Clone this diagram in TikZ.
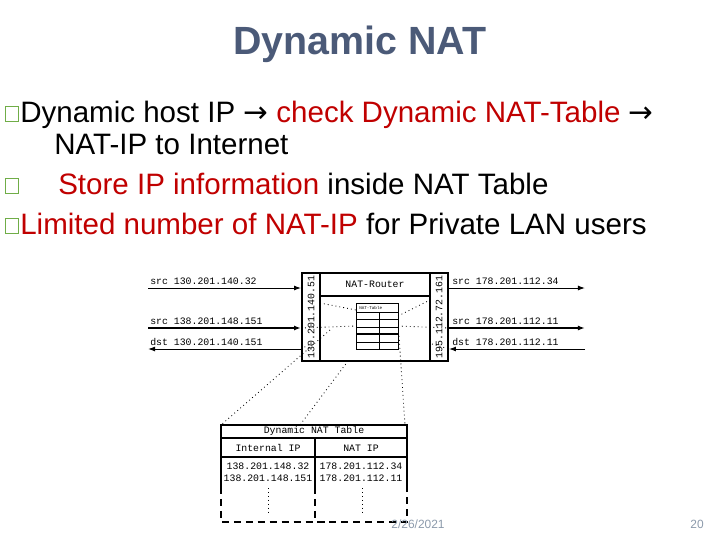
\documentclass[tikz,border=0pt]{standalone}
\usepackage{fontspec}
\setmainfont{Liberation Sans}
\setmonofont{Liberation Mono}
\newfontfamily\arrfont{DejaVu Sans}
\usetikzlibrary{arrows.meta}
\definecolor{ttlblue}{HTML}{4B5A78}
\definecolor{hired}{HTML}{C00000}
\definecolor{bulgreen}{HTML}{70AD47}
\definecolor{footgray}{HTML}{8C9AAB}
\newcommand{\rarr}{{\arrfont →}}

\begin{document}
\begin{tikzpicture}[x=0.025cm, y=-0.025cm,
    ttl/.style={font=\fontsize{28}{30}\selectfont\bfseries, text=ttlblue, inner sep=0pt},
    txt/.style={font=\fontsize{21}{24}\selectfont, anchor=base west, inner sep=0pt},
    bul/.style={draw=bulgreen, line width=0.9pt, minimum width=0.33cm, minimum height=0.38cm, inner sep=0pt},
    ip/.style={font=\ttfamily\fontsize{7}{8}\selectfont, inner sep=0pt},
    lab/.style={ip, anchor=base west},
    rtbox/.style={draw, line width=1.3pt, minimum width=3.65cm, minimum height=2.2cm, inner sep=0pt},
    tbl/.style={line width=1.3pt},
    arr/.style={-{Latex[length=5pt,width=3.5pt]}, line width=0.7pt},
    fat/.style={line width=1.5pt},
    dots/.style={dash pattern=on 0.6pt off 2.2pt, line width=0.6pt},
    foot/.style={font=\fontsize{8.5}{10}\selectfont, text=footgray, inner sep=0pt}]
  \useasboundingbox (0,0) rectangle (720,540);

  % title and bullets
  \node[ttl] (title) at (360,44) {Dynamic NAT};
  \node[bul] (b1) at (12,114) {};
  \node[txt] (t1) at (20,122) {Dynamic host IP \rarr{} \textcolor{hired}{check Dynamic NAT-Table} \rarr};
  \node[txt] (t2) at (54,154) {NAT-IP to Internet};
  \node[bul] (b2) at (12,186) {};
  \node[txt] (t3) at (58,194) {\textcolor{hired}{Store IP information} inside NAT Table};
  \node[bul] (b3) at (12,226) {};
  \node[txt] (t4) at (20,234) {\textcolor{hired}{Limited number of NAT-IP} for Private LAN users};

  % router
  \node[rtbox] (rt) at (375,317) {};
  \draw[line width=1pt] (320,273) -- (320,361) (430,273) -- (430,361) (320,296) -- (430,296);
  \node[ip] (rtname) at (375,284) {NAT-Router};
  \node[ip, rotate=90] (lip) at (311,317) {130.201.140.51};
  \node[ip, rotate=90] (rip) at (439,317) {195.112.72.161};
  % small table inside router
  \draw[line width=0.7pt] (356,303) rectangle (398,349);
  \foreach \yy in {312,319,327,342} \draw[line width=0.7pt] (356,\yy) -- (398,\yy);
  \draw[line width=1.1pt] (356,334) -- (398,334);
  \draw[line width=0.7pt] (379,312) -- (379,349);
  \node[font=\ttfamily\fontsize{3}{3}\selectfont, anchor=west, inner sep=0pt] (mini) at (359,307.5) {NAT-Table};

  % packets, left side
  \coordinate (l1) at (148,288);
  \coordinate (l2) at (148,328);
  \coordinate (l3) at (148,349);
  \draw[arr] (l1) -- (l1 -| rt.west);
  \draw[arr, fat] (l2) -- (l2 -| rt.west);
  \draw[arr] (l3 -| rt.west) -- (l3);
  \node[lab] (s1) at (150,284.5) {src 130.201.140.32};
  \node[lab] (s2) at (150,324.5) {src 138.201.148.151};
  \node[lab] (s3) at (150,345.5) {dst 130.201.140.151};

  % packets, right side
  \coordinate (r1) at (585,288);
  \coordinate (r2) at (585,328);
  \coordinate (r3) at (585,349);
  \draw[arr] (r1 -| rt.east) -- (r1);
  \draw[arr, fat] (r2 -| rt.east) -- (r2);
  \draw[arr] (r3) -- (r3 -| rt.east);
  \node[lab] (d1) at (452,284.5) {src 178.201.112.34};
  \node[lab] (d2) at (452,324.5) {src 178.201.112.11};
  \node[lab] (d3) at (452,345.5) {dst 178.201.112.11};

  % dotted lookups inside router
  \draw[dots] (320,303) -- (356,310);
  \draw[dots] (l2 -| rt.west) -- (356,326);
  \draw[dots] (l3 -| rt.west) -- (310,344);
  \draw[dots] (398,316) -- (430,300);
  \draw[dots] (398,326) -- (r2 -| rt.east);
  \draw[dots] (432,344) -- (r3 -| rt.east);

  % dynamic NAT table
  \coordinate (tnw) at (221,425);
  \coordinate (tmid) at (300,425);
  \coordinate (tne) at (405,425);
  \draw[tbl] (221,487) -- (221,425) -- (407,425) -- (407,487);
  \draw[tbl] (315,438) -- (315,487);
  \draw[line width=0.8pt] (221,438) -- (407,438) (221,457) -- (407,457);
  \draw[tbl, dash pattern=on 5pt off 3.5pt] (221,487) -- (221,522) -- (407,522) -- (407,487) (315,487) -- (315,522);
  \node[ip] (thead) at (314,431) {Dynamic NAT Table};
  \node[ip] (hin) at (268,448) {Internal IP};
  \node[ip] (hnat) at (361,448) {NAT IP};
  \node[ip] (ra1) at (268,466) {138.201.148.32};
  \node[ip] (rb1) at (361,466) {178.201.112.34};
  \node[ip] (ra2) at (268,478) {138.201.148.151};
  \node[ip] (rb2) at (361,478) {178.201.112.11};
  \draw[dots] (268,488) -- (268,514) (362,488) -- (362,514);

  % router to table
  \draw[dots] (330,330) -- (tnw);
  \draw[dots] (348,361) -- (tmid);
  \draw[dots] (399,336) -- (tne);

  % footer
  \node[foot] (date) at (418,524) {2/26/2021};
  \node[foot] (page) at (697,524) {20};
\end{tikzpicture}
\end{document}
